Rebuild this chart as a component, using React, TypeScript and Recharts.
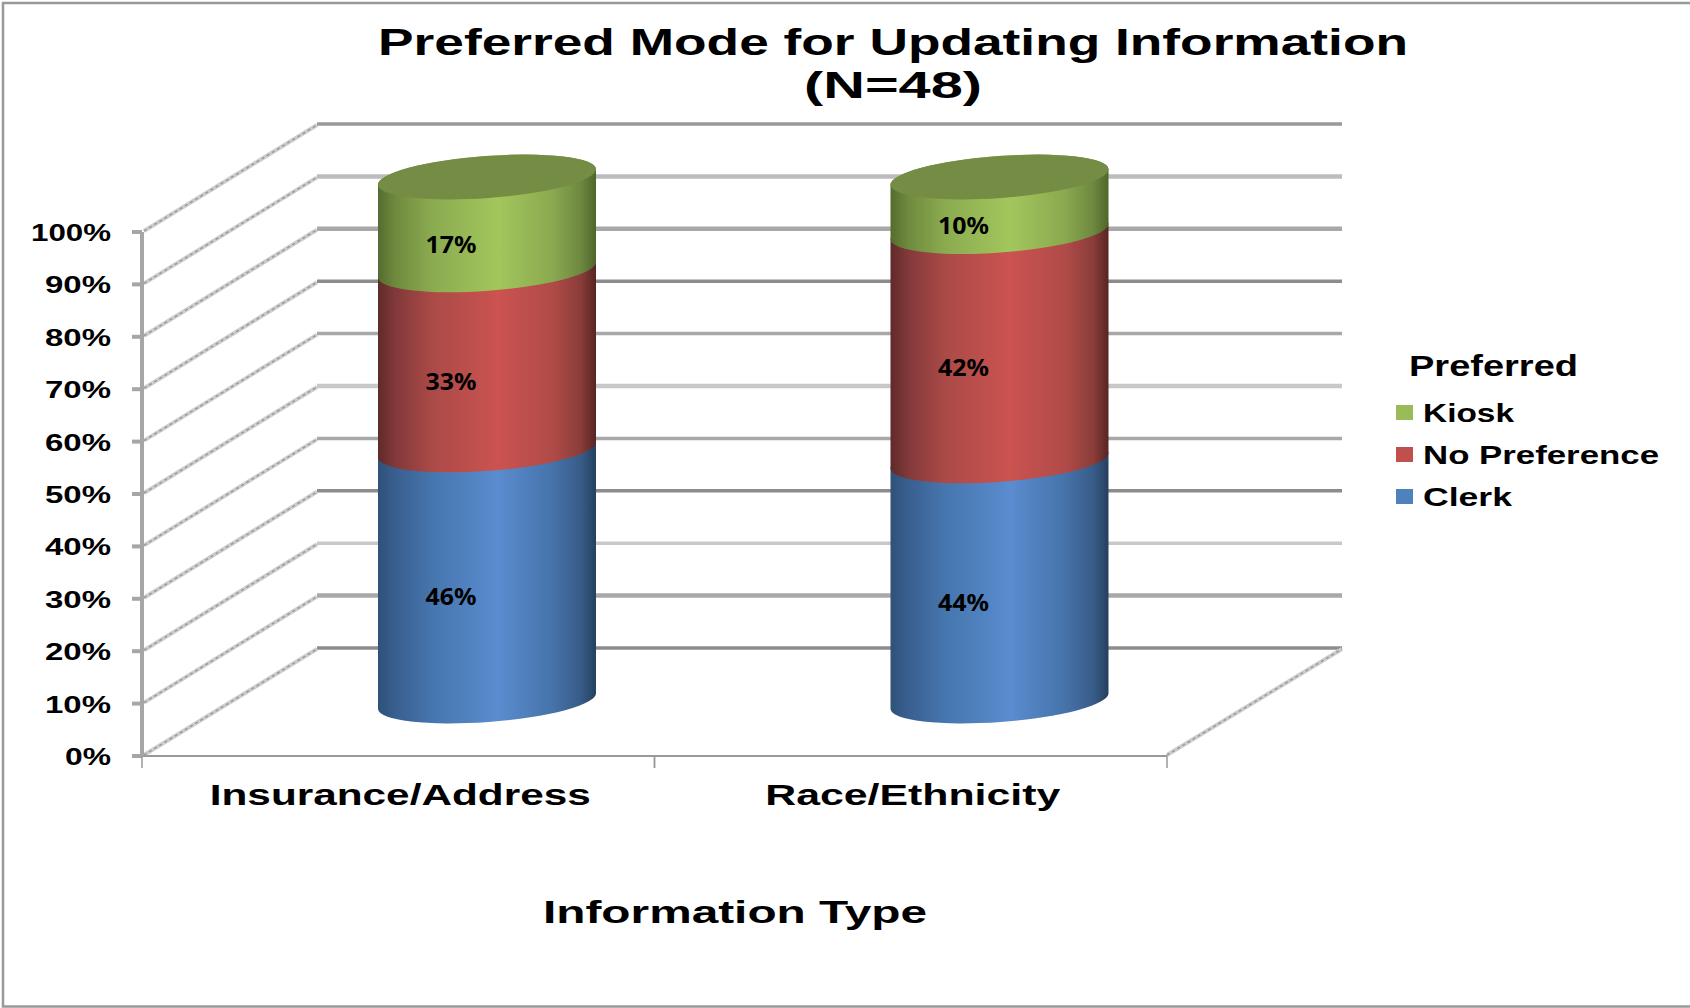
import React from 'react';
import { BarChart, Bar, XAxis, YAxis, ReferenceLine, Legend, LabelList } from 'recharts';

const categories = ['Insurance/Address', 'Race/Ethnicity'];
const clerk = [46, 44];
const noPreference = [33, 42];
const kiosk = [17, 10];
const gridTicks = [0, 0.1, 0.2, 0.3, 0.4, 0.5, 0.6, 0.7, 0.8, 0.9, 1];

const data = categories.map((name, i) => ({
  name,
  Clerk: clerk[i],
  'No Preference': noPreference[i],
  Kiosk: kiosk[i],
}));

const W = 1690;
const H = 1008;
const PLOT_LEFT = 142;
const PLOT_RIGHT = 1167;
const PLOT_TOP = 232;
const PLOT_BOTTOM = 756;
const DEPTH_X = 175;
const DEPTH_Y = 108;
const BAR_DX = 89;
const BAR_DY = -55;
const TILT = 8;
const RY = 21;
const FONT = '"Liberation Sans", Arial, sans-serif';

const gridStyle: Record<string, [string, number]> = {
  '0': ['#8c8c8c', 3.5],
  '0.1': ['#a8a8a8', 4.5],
  '0.2': ['#c8c8c8', 3.5],
  '0.3': ['#8c8c8c', 3.5],
  '0.4': ['#a8a8a8', 3.5],
  '0.5': ['#c8c8c8', 4.5],
  '0.6': ['#a8a8a8', 3.5],
  '0.7': ['#8c8c8c', 3.5],
  '0.8': ['#a8a8a8', 4.5],
  '0.9': ['#bcbcbc', 4.5],
  '1': ['#999999', 3.5],
};

const labelWidths: Record<string, number> = {
  'Insurance/Address': 381,
  'Race/Ethnicity': 295,
  '100%': 80,
  '90%': 66,
  '80%': 66,
  '70%': 66,
  '60%': 66,
  '50%': 66,
  '40%': 66,
  '30%': 66,
  '20%': 66,
  '10%': 66,
  '0%': 46,
};

function Stretch({ x, y, len, size, children, anchor = 'start', weight = 'bold', family = FONT }: any) {
  return (
    <text
      x={x}
      y={y}
      textLength={len}
      lengthAdjust="spacingAndGlyphs"
      textAnchor={anchor}
      fontSize={size}
      fontWeight={weight}
      fontFamily={family}
      fill="#000"
    >
      {children}
    </text>
  );
}

function GridShape(props: any) {
  const { x1, y1, x2, value } = props;
  const [stroke, sw] = gridStyle[String(value)];
  const xb = x1 + DEPTH_X;
  const yb = y1 - DEPTH_Y;
  const diag = (a: number, b: number) => (
    <g>
      <line x1={a} y1={y1 - 1} x2={b} y2={yb + 1} stroke="#cdcdcd" strokeWidth={4} />
      <line x1={a} y1={y1 - 1} x2={b} y2={yb + 1} stroke="#9a9a9a" strokeWidth={1.5} strokeDasharray="3 3" />
    </g>
  );
  return (
    <g>
      <line x1={xb} y1={yb} x2={x2 + DEPTH_X} y2={yb} stroke={stroke} strokeWidth={sw} />
      {diag(x1 + 2, xb)}
      {value === 0 ? diag(x2, x2 + DEPTH_X) : null}
    </g>
  );
}

function cylinder(gradient: string, cap?: string) {
  return function CylinderShape(props: any) {
    const { x, y, width, height } = props;
    const left = x + BAR_DX;
    const right = left + width;
    const topY = y + BAR_DY;
    const bottomY = y + height + BAR_DY;
    const rx = Math.hypot(width / 2, TILT);
    const rot = (-Math.atan2(TILT, width / 2) * 180) / Math.PI;
    const arc = (toX: number, toY: number, sweep: number) =>
      `A ${rx} ${RY} ${rot} 0 ${sweep} ${toX} ${toY}`;
    const side = [
      `M ${left} ${topY + TILT}`,
      arc(right, topY - TILT, 1),
      `L ${right} ${bottomY - TILT}`,
      arc(left, bottomY + TILT, 1),
      'Z',
    ].join(' ');
    const top = [
      `M ${left} ${topY + TILT}`,
      arc(right, topY - TILT, 1),
      arc(left, topY + TILT, 1),
      'Z',
    ].join(' ');
    return (
      <g>
        <path d={side} fill={`url(#${gradient})`} />
        {cap ? <path d={top} fill={cap} /> : null}
      </g>
    );
  };
}

function DataLabel(props: any) {
  const { x, y, width, height, value } = props;
  return (
    <text
      x={x + width / 2 + BAR_DX - 36}
      y={y + height / 2 + BAR_DY + 30}
      textAnchor="middle"
      textLength={51}
      lengthAdjust="spacingAndGlyphs"
      fontSize={24}
      fontWeight={700}
      fontFamily='"Noto Sans", sans-serif'
      fill="#000"
    >
      {value}%
    </text>
  );
}

function XTick(props: any) {
  const { x, y, payload } = props;
  const band = (PLOT_RIGHT - PLOT_LEFT) / categories.length;
  const label = String(payload.value);
  const tick = (px: number) => <line x1={px} y1={y - 8} x2={px} y2={y + 4} stroke="#999" strokeWidth={1.5} />;
  return (
    <g>
      {tick(x - band / 2)}
      {tick(x + band / 2)}
      <Stretch x={x + 2} y={y + 41} len={labelWidths[label]} size={29} anchor="middle">
        {label}
      </Stretch>
    </g>
  );
}

function YTick(props: any) {
  const { x, y, payload } = props;
  const label = `${Math.round(payload.value * 100)}%`;
  return (
    <Stretch x={x - 19} y={y + 9} len={labelWidths[label]} size={24} anchor="end">
      {label}
    </Stretch>
  );
}

function LegendBox(props: any) {
  const entries = [...(props.payload || [])].reverse();
  return (
    <svg width={300} height={190} style={{ display: 'block', overflow: 'visible' }}>
      <Stretch x={29} y={36} len={169} size={30}>
        Preferred
      </Stretch>
      {entries.map((e: any, i: number) => (
        <g key={e.value} transform={`translate(16 ${73 + i * 42})`}>
          <rect x={0} y={-8} width={17} height={15} fill={e.color} />
          <Stretch x={27} y={9} len={{ Kiosk: 91, 'No Preference': 236, Clerk: 89 }[e.value as string]} size={26}>
            {e.value}
          </Stretch>
        </g>
      ))}
    </svg>
  );
}

function Gradient({ id, stops }: { id: string; stops: string[] }) {
  const at = [0, 0.08, 0.25, 0.55, 0.8, 0.93, 1];
  return (
    <linearGradient id={id} x1="0" y1="0" x2="1" y2="0">
      {stops.map((c, i) => (
        <stop key={i} offset={at[i]} stopColor={c} />
      ))}
    </linearGradient>
  );
}

const ClerkShape = cylinder('gClerk');
const NoPrefShape = cylinder('gNoPref');
const KioskShape = cylinder('gKiosk', '#758c45');

export default function App() {
  return (
    <div style={{ position: 'absolute', left: 0, top: 0, width: W, height: H, background: '#fff', overflow: 'hidden' }}>
      <svg width={W} height={H} style={{ position: 'absolute', left: 0, top: 0 }}>
        <path d={`M ${W} 3 L 3 3 L 3 1006.5 L ${W} 1006.5`} fill="none" stroke="#999" strokeWidth={2.5} />
        <Stretch x={378} y={55} len={1030} size={37}>
          Preferred Mode for Updating Information
        </Stretch>
        <Stretch x={804} y={98} len={178} size={37}>
          (N=48)
        </Stretch>
        <Stretch x={543} y={923} len={384} size={31}>
          Information Type
        </Stretch>
      </svg>
      <div style={{ position: 'absolute', left: 0, top: 0 }}>
        <BarChart
          width={W}
          height={H}
          data={data}
          stackOffset="expand"
          barSize={218}
          margin={{ top: PLOT_TOP, right: W - PLOT_RIGHT, left: 0, bottom: 0 }}
        >
          <defs>
            <Gradient id="gClerk" stops={['#2f5179', '#385f8f', '#4676ae', '#5a8ccf', '#4573aa', '#385c88', '#25405f']} />
            <Gradient id="gNoPref" stops={['#5f2a28', '#82393a', '#ab4a47', '#cb5350', '#b04b48', '#8a3d3a', '#572523']} />
            <Gradient id="gKiosk" stops={['#546c2e', '#6f8a3e', '#8bab50', '#a3c65c', '#8aa950', '#6e883f', '#4f662b']} />
          </defs>
          <XAxis
            dataKey="name"
            height={H - PLOT_BOTTOM}
            stroke="#999"
            strokeWidth={2}
            tickLine={false}
            tick={<XTick />}
            interval={0}
          />
          <YAxis
            width={PLOT_LEFT}
            domain={[0, 1]}
            ticks={gridTicks}
            stroke="#a6a6a6"
            strokeWidth={4}
            tickSize={10}
            tick={<YTick />}
            interval={0}
          />
          {gridTicks.map((t) => (
            <ReferenceLine key={t} y={t} zIndex={-100} shape={<GridShape value={t} />} />
          ))}
          <Bar dataKey="Clerk" stackId="a" fill="#4f81bd" isAnimationActive={false} shape={ClerkShape}>
            <LabelList dataKey="Clerk" content={<DataLabel />} />
          </Bar>
          <Bar dataKey="No Preference" stackId="a" fill="#c0504d" isAnimationActive={false} shape={NoPrefShape}>
            <LabelList dataKey="No Preference" content={<DataLabel />} />
          </Bar>
          <Bar dataKey="Kiosk" stackId="a" fill="#9bbb59" isAnimationActive={false} shape={KioskShape}>
            <LabelList dataKey="Kiosk" content={<DataLabel />} />
          </Bar>
          <Legend
            layout="vertical"
            align="center"
            verticalAlign="middle"
            itemSorter={null}
            wrapperStyle={{ left: 1380, top: 340, width: 300, height: 190 }}
            content={<LegendBox />}
          />
        </BarChart>
      </div>
    </div>
  );
}
